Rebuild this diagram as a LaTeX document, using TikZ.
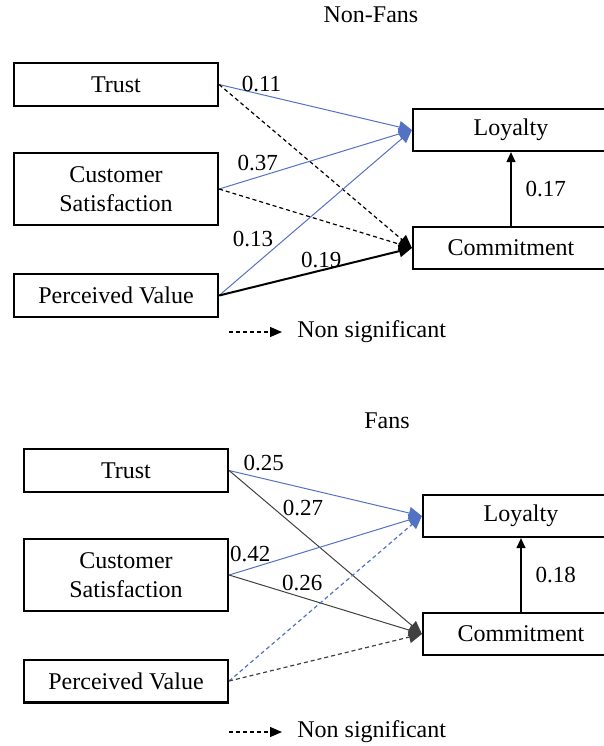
\documentclass[tikz,border=0pt]{standalone}
\usepackage{fontspec}
\setmainfont{Liberation Serif}
\usetikzlibrary{arrows.meta}
\definecolor{pathblue}{RGB}{84,114,196}
\definecolor{pathgrey}{RGB}{64,64,64}

\begin{document}
\begin{tikzpicture}[x=0.5pt, y=-0.5pt]
	\tikzstyle{every node}=[inner sep=1pt, align=center, font=\fontsize{12}{14.5}\selectfont]
	\tikzstyle{var}=[draw, line width=1.1pt, minimum width=102pt, minimum height=21.4pt]
	\tikzstyle{outcome}=[var, minimum width=98pt, minimum height=21pt]
	\tikzstyle{coef}=[text=black, font=\fontsize{11.5}{13}\selectfont]
	\tikzstyle{sig}=[line width=0.5pt, -{Triangle[length=6.5pt, width=6pt]}]
	\tikzstyle{nonsig}=[sig, line width=0.6pt, dash pattern=on 2pt off 1.5pt]
	\tikzstyle{up}=[line width=0.6pt, -{Triangle[length=5pt, width=4.5pt]}]
	\tikzstyle{key}=[anchor=west]
	\useasboundingbox (0, 0) rectangle (604, 746);

	\node (title1) at (371, 15) {Non-Fans};
	\node[var] (T1) at (116, 84.5) {Trust};
	\node[var, minimum height=36pt] (CS1) at (116, 189) {Customer\\Satisfaction};
	\node[var] (PV1) at (116, 295.5) {Perceived Value};
	\node[outcome] (L1) at (511, 130) {Loyalty};
	\node[outcome] (C1) at (511, 248) {Commitment};
	\draw[sig, pathblue] (T1.east) -- (L1.west) node[coef, pos=0.22, above] (b11) {0.11};
	\draw[nonsig] (T1.east) -- (C1.west);
	\draw[sig, pathblue] (CS1.east) -- (L1.west) node[coef, pos=0.2, above=2pt] (b12) {0.37};
	\draw[nonsig] (CS1.east) -- (C1.west);
	\draw[sig, pathblue] (PV1.east) -- (L1.west) node[coef, pos=0.34, left=4.5pt] (b13) {0.13};
	\draw[sig, line width=1pt] (PV1.east) -- (C1.west) node[coef, pos=0.53, above] (b14) {0.19};
	\draw[up] (C1) -- (L1) node[coef, midway, right=6pt] (b15) {0.17};
	\node[key] (key1) at (295, 332) {Non significant};
	\coordinate (key1a) at (229, 332);
	\draw[nonsig, -{Triangle[length=6pt, width=5pt]}] (key1a) -- ([xshift=-6.5pt]key1.west);

	\node (title2) at (387, 421) {Fans};
	\node[var] (T2) at (126, 470.5) {Trust};
	\node[var, minimum height=36pt] (CS2) at (126, 575) {Customer\\Satisfaction};
	\node[var] (PV2) at (126, 681) {Perceived Value};
	\node[outcome] (L2) at (521, 516) {Loyalty};
	\node[outcome] (C2) at (521, 634) {Commitment};
	\draw[sig, pathblue] (T2.east) -- (L2.west) node[coef, pos=0.18, above=2.5pt] (b21) {0.25};
	\draw[sig, pathgrey] (T2.east) -- (C2.west) node[coef, pos=0.23, right=3.5pt] (b22) {0.27};
	\draw[sig, pathblue] (CS2.east) -- (L2.west) node[coef, pos=0.11, above=2pt] (b23) {0.42};
	\draw[sig, pathgrey] (CS2.east) -- (C2.west) node[coef, pos=0.38, above=2pt] (b24) {0.26};
	\draw[nonsig, pathblue] (PV2.east) -- (L2.west);
	\draw[nonsig, pathgrey] (PV2.east) -- (C2.west);
	\draw[up] (C2) -- (L2) node[coef, midway, right=6pt] (b25) {0.18};
	\node[key] (key2) at (295, 732) {Non significant};
	\coordinate (key2a) at (229, 732);
	\draw[nonsig, -{Triangle[length=6pt, width=5pt]}] (key2a) -- ([xshift=-6.5pt]key2.west);
\end{tikzpicture}
\end{document}
